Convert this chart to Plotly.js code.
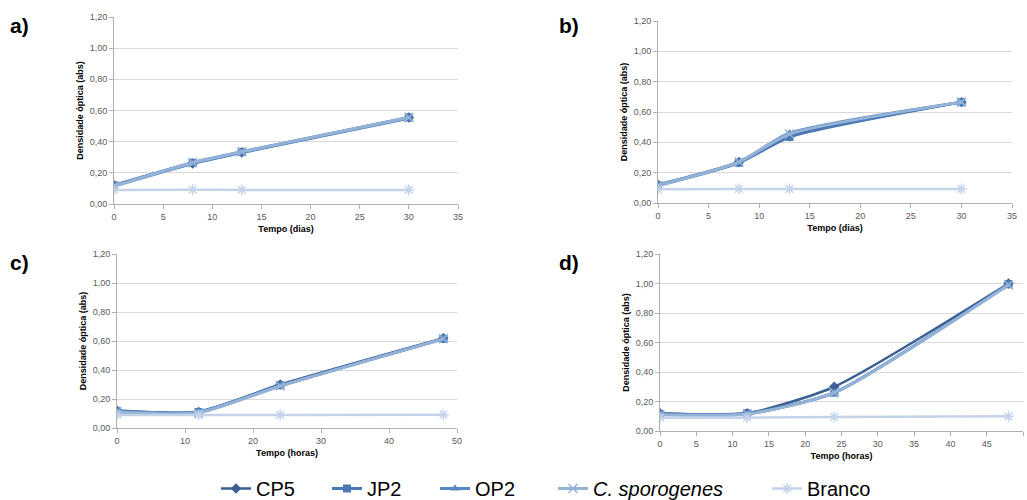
<!DOCTYPE html>
<html><head><meta charset="utf-8">
<script src="https://cdn.plot.ly/plotly-3.0.1.min.js"></script>
<style>body{margin:0;background:#fff}#chart{width:1027px;height:500px}</style>
</head><body><div id="chart"></div>
<script>
// Time points
const tDias = [0, 8, 13, 30];
const tHoras = [0, 12, 24, 48];

// Panel a) (dias)
const aCP5 = [0.12, 0.26, 0.33, 0.555];
const aJP2 = [0.12, 0.265, 0.335, 0.555];
const aOP2 = [0.115, 0.26, 0.33, 0.55];
const aCspo = [0.115, 0.265, 0.335, 0.555];
const aBranco = [0.09, 0.092, 0.09, 0.09];

// Panel b) (dias)
const bCP5 = [0.12, 0.27, 0.44, 0.665];
const bJP2 = [0.115, 0.265, 0.435, 0.665];
const bOP2 = [0.12, 0.27, 0.46, 0.665];
const bCspo = [0.115, 0.27, 0.455, 0.665];
const bBranco = [0.09, 0.093, 0.093, 0.093];

// Panel c) (horas)
const cCP5 = [0.12, 0.11, 0.30, 0.62];
const cJP2 = [0.115, 0.11, 0.295, 0.615];
const cOP2 = [0.115, 0.11, 0.29, 0.615];
const cCspo = [0.11, 0.105, 0.29, 0.615];
const cBranco = [0.09, 0.09, 0.09, 0.092];

// Panel d) (horas)
const dCP5 = [0.12, 0.12, 0.30, 1.00];
const dJP2 = [0.115, 0.12, 0.26, 0.995];
const dOP2 = [0.115, 0.115, 0.26, 0.995];
const dCspo = [0.11, 0.115, 0.26, 0.99];
const dBranco = [0.09, 0.09, 0.095, 0.10];

const seriesNames = ['CP5', 'JP2', 'OP2', '<i>C. sporogenes</i>', 'Branco'];
const panelLabels = ['a)', 'b)', 'c)', 'd)'];
const xTitles = ['Tempo (dias)', 'Tempo (dias)', 'Tempo (horas)', 'Tempo (horas)'];
const yTitle = 'Densidade óptica (abs)';

const colors = ['#3a5f90', '#4a78b4', '#5787c4', '#95b3d7', '#c3d3ea'];
const symbols = ['diamond', 'square', 'triangle-up', 'x-thin-open', 'asterisk-open'];
const lineW = [2.5, 3, 3, 3, 2.5];

const panels = [
  {x: tDias, ys: [aCP5, aJP2, aOP2, aCspo, aBranco]},
  {x: tDias, ys: [bCP5, bJP2, bOP2, bCspo, bBranco]},
  {x: tHoras, ys: [cCP5, cJP2, cOP2, cCspo, cBranco]},
  {x: tHoras, ys: [dCP5, dJP2, dOP2, dCspo, dBranco]}
];

const W = 1027, H = 500;
// pixel boxes [left, right, top, bottom]
const boxes = [[114, 458, 17, 204], [658, 1012, 21, 203], [117, 457, 254, 428], [660, 1023, 254, 431]];
const xRanges = [[0, 35], [0, 35], [0, 50], [0, 50]];
const xDtick = [5, 5, 10, 5];
// legend text start (px) for each series
const legendTextX = [260, 371, 479, 597, 811];

const traces = [];
const legendIds = ['legend', 'legend2', 'legend3', 'legend4', 'legend5'];
panels.forEach((p, i) => {
  const ax = i === 0 ? '' : String(i + 1);
  [0, 1, 2, 3, 4].forEach(s => {
    const isX = symbols[s].indexOf('open') >= 0;
    traces.push({
      type: 'scatter', mode: 'lines+markers',
      x: p.x, y: p.ys[s], name: seriesNames[s],
      xaxis: 'x' + ax, yaxis: 'y' + ax,
      line: {color: colors[s], width: lineW[s], shape: 'spline', smoothing: 0.6},
      marker: {symbol: symbols[s], size: isX ? 9 : 8, color: colors[s], line: {color: colors[s], width: isX ? 1.5 : 0}},
      showlegend: i === 0, legend: legendIds[s]
    });
  });
});

const layout = {
  width: W, height: H,
  margin: {l: 0, r: 0, t: 0, b: 0, autoexpand: false},
  paper_bgcolor: '#fff', plot_bgcolor: '#fff',
  separators: ',.',
  font: {family: 'Liberation Sans, Arial, sans-serif', color: '#595959', size: 9},
  showlegend: true,
  annotations: [],
  hovermode: false
};
legendIds.forEach((id, s) => {
  layout[id] = {orientation: 'h', x: (legendTextX[s] - 44) / W, xanchor: 'left', y: -0.016, yanchor: 'bottom',
    font: {size: 20, color: '#000'}, itemwidth: 30, bgcolor: 'rgba(0,0,0,0)'};
});

boxes.forEach((b, i) => {
  const ax = i === 0 ? '' : String(i + 1);
  layout['xaxis' + ax] = {
    domain: [b[0] / W, b[1] / W], anchor: 'y' + ax,
    range: xRanges[i], dtick: xDtick[i], tick0: 0,
    showgrid: false, zeroline: false,
    showline: true, linecolor: '#b0b0b0', linewidth: 1,
    ticks: 'outside', ticklen: 4, tickcolor: '#b0b0b0',
    tickfont: {size: 9, color: '#595959'},
    title: {text: '<b>' + xTitles[i] + '</b>', font: {size: 9, color: '#000'}, standoff: 4}
  };
  layout['yaxis' + ax] = {
    domain: [1 - b[3] / H, 1 - b[2] / H], anchor: 'x' + ax,
    range: [0, 1.2], dtick: 0.2, tick0: 0, tickformat: '.2f',
    showgrid: true, gridcolor: '#d9d9d9', gridwidth: 1, zeroline: false,
    showline: true, linecolor: '#b0b0b0', linewidth: 1,
    ticks: 'outside', ticklen: 4, tickcolor: '#b0b0b0',
    tickfont: {size: 9, color: '#595959'},
    title: {text: '<b>' + yTitle + '</b>', font: {size: 9, color: '#000'}, standoff: 4}
  };
});

const labelPos = [[8, 25], [557, 25], [8, 262], [557, 262]];
panelLabels.forEach((t, i) => {
  layout.annotations.push({
    text: '<b>' + t + '</b>', xref: 'paper', yref: 'paper',
    x: labelPos[i][0] / W, y: 1 - labelPos[i][1] / H,
    xanchor: 'left', yanchor: 'middle', showarrow: false,
    font: {size: 21, color: '#000', family: 'Liberation Sans, Arial, sans-serif'}
  });
});

Plotly.newPlot('chart', traces, layout, {displayModeBar: false, staticPlot: true});
</script></body></html>
